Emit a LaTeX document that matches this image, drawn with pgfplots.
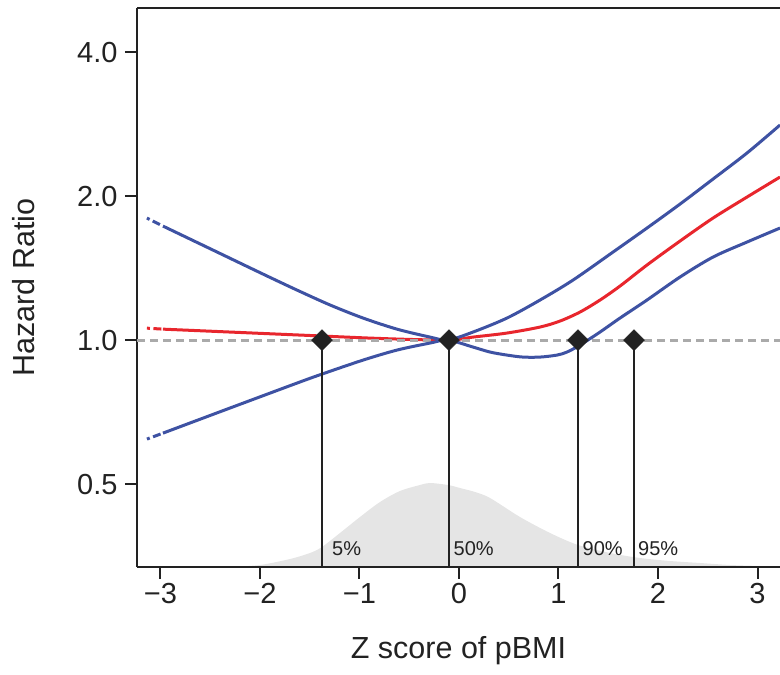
\documentclass[border=0pt]{standalone}
\usepackage{fontspec}
\setmainfont{Liberation Sans}
\usepackage{pgfplots}
\pgfplotsset{compat=1.18}
\definecolor{ciblue}{RGB}{62,82,163}
\definecolor{hrred}{RGB}{232,38,45}
\definecolor{densgray}{RGB}{229,229,229}
\definecolor{refgray}{RGB}{170,170,170}
\definecolor{ink}{RGB}{34,34,34}

% density of the Z score (arbitrary units)
\pgfplotstableread{
x h
-2.302 0
-2.000 2
-1.698 8
-1.497 14
-1.377 20
-1.196 34
-0.995 50
-0.794 65
-0.593 76
-0.392 82
-0.291 84
-0.111 82
0.010 79
0.161 75
0.312 69
0.613 50
0.915 34
1.196 22
1.518 14
1.819 9
2.121 6
2.422 4
2.724 2
3.025 1
3.226 0.5
}\density

\begin{document}
\begin{tikzpicture}[x=1pt,y=1pt]
\useasboundingbox (-137,-108) rectangle (643,567);

\begin{axis}[at={(0,0)}, anchor=south west,
  width=643pt, height=559pt, scale only axis,
  xmin=-3.236, xmax=3.226, ymin=0, ymax=559, hide axis]
\addplot[fill=densgray, draw=none, smooth] table[x=x, y=h] {\density} \closedcycle;
\end{axis}

\begin{axis}[at={(0,0)}, anchor=south west,
  width=643pt, height=559pt, scale only axis,
  xmin=-3.236, xmax=3.226,
  ymode=log, ymin=0.3355, ymax=4.944,
  axis x line*=box, axis y line*=left,
  xtick pos=bottom, ytick pos=left,
  axis line style={ink, line width=2.5pt},
  xtick={-3,-2,-1,0,1,2,3}, xticklabels={−3,−2,−1,0,1,2,3},
  ytick={0.5,1,2,4}, yticklabels={0.5,1.0,2.0,4.0},
  minor tick num=0,
  tick style={ink, line width=2pt},
  tick align=outside, major tick length=12pt,
  ticklabel style={font=\fontsize{29}{34}\selectfont, text=ink},
  xticklabel style={yshift=-1pt},
  yticklabel style={xshift=-4pt},
  xlabel={Z score of pBMI}, ylabel={Hazard Ratio},
  label style={font=\fontsize{30.5}{36}\selectfont, text=ink},
  xlabel style={at={(axis description cs:0.5,-0.163)}, anchor=base},
  ylabel style={at={(axis description cs:-0.177,0.5)}, anchor=center},
]
% hazard ratio
\addplot[hrred, line width=3pt, dash pattern=on 3pt off 3.5pt on 8pt off 10pt]
  coordinates {(-3.136,1.059) (-2.975,1.054)};
\addplot[hrred, line width=3pt, smooth] coordinates {
  (-2.975,1.054) (-1.598,1.0244) (-0.764,1.0072) (-0.111,1.0) (0.141,1.0145)
  (0.482,1.0343) (0.814,1.0646) (1.015,1.0958) (1.216,1.1443) (1.417,1.2123)
  (1.618,1.2968) (1.889,1.4348) (2.221,1.6105) (2.553,1.7991) (2.894,1.9904)
  (3.226,2.1916)};
% reference line
\addplot[refgray, line width=3pt, dash pattern=on 8pt off 5pt]
  coordinates {(-3.236,1) (3.226,1)};
% upper confidence limit
\addplot[ciblue, line width=3pt, dash pattern=on 3pt off 3.5pt on 8pt off 10pt]
  coordinates {(-3.136,1.799) (-2.975,1.731)};
\addplot[ciblue, line width=3pt, smooth] coordinates {
  (-2.975,1.731) (-2.472,1.542) (-1.970,1.374) (-1.628,1.272) (-1.296,1.184)
  (-0.965,1.112) (-0.623,1.054) (-0.291,1.0145) (-0.111,1.0) (0.141,1.0393)
  (0.482,1.1117) (0.814,1.2123) (1.146,1.3348) (1.548,1.5275) (1.889,1.7145)
  (2.221,1.9244) (2.553,2.1706) (2.894,2.4598) (3.226,2.8149)};
% lower confidence limit
\addplot[ciblue, line width=3pt, dash pattern=on 3pt off 3.5pt on 8pt off 10pt]
  coordinates {(-3.136,0.621) (-2.975,0.639)};
\addplot[ciblue, line width=3pt, smooth] coordinates {
  (-2.975,0.639) (-2.302,0.721) (-1.628,0.813) (-1.377,0.849) (-0.965,0.908)
  (-0.623,0.953) (-0.291,0.9857) (-0.111,1.0) (0.141,0.9669) (0.312,0.9439)
  (0.482,0.9303) (0.643,0.9214) (0.814,0.9214) (0.985,0.9303) (1.085,0.9439)
  (1.216,0.9762) (1.417,1.0393) (1.618,1.1117) (1.889,1.2123) (2.221,1.3543)
  (2.553,1.4911) (2.894,1.6027) (3.226,1.7145)};
% percentiles
\addplot[ink, line width=2pt] coordinates {(-1.377,0.3355) (-1.377,1)};
\addplot[ink, line width=2pt] coordinates {(-0.101,0.3355) (-0.101,1)};
\addplot[ink, line width=2pt] coordinates {(1.196,0.3355) (1.196,1)};
\addplot[ink, line width=2pt] coordinates {(1.759,0.3355) (1.759,1)};
\addplot[only marks, mark=square*, mark size=7.4pt,
  mark options={rotate=45, fill=ink, draw=ink}]
  coordinates {(-1.377,1) (-0.101,1) (1.196,1) (1.759,1)};
\begin{scope}[font=\fontsize{20}{24}\selectfont, text=ink, inner sep=0pt]
\node[anchor=west, xshift=10pt] at (axis cs:-1.377,0.367) {5\%};
\node[anchor=west, xshift=4.5pt] at (axis cs:-0.101,0.367) {50\%};
\node[anchor=west, xshift=4.5pt] at (axis cs:1.196,0.367) {90\%};
\node[anchor=west, xshift=4pt] at (axis cs:1.759,0.367) {95\%};
\end{scope}
\end{axis}
\end{tikzpicture}
\end{document}
